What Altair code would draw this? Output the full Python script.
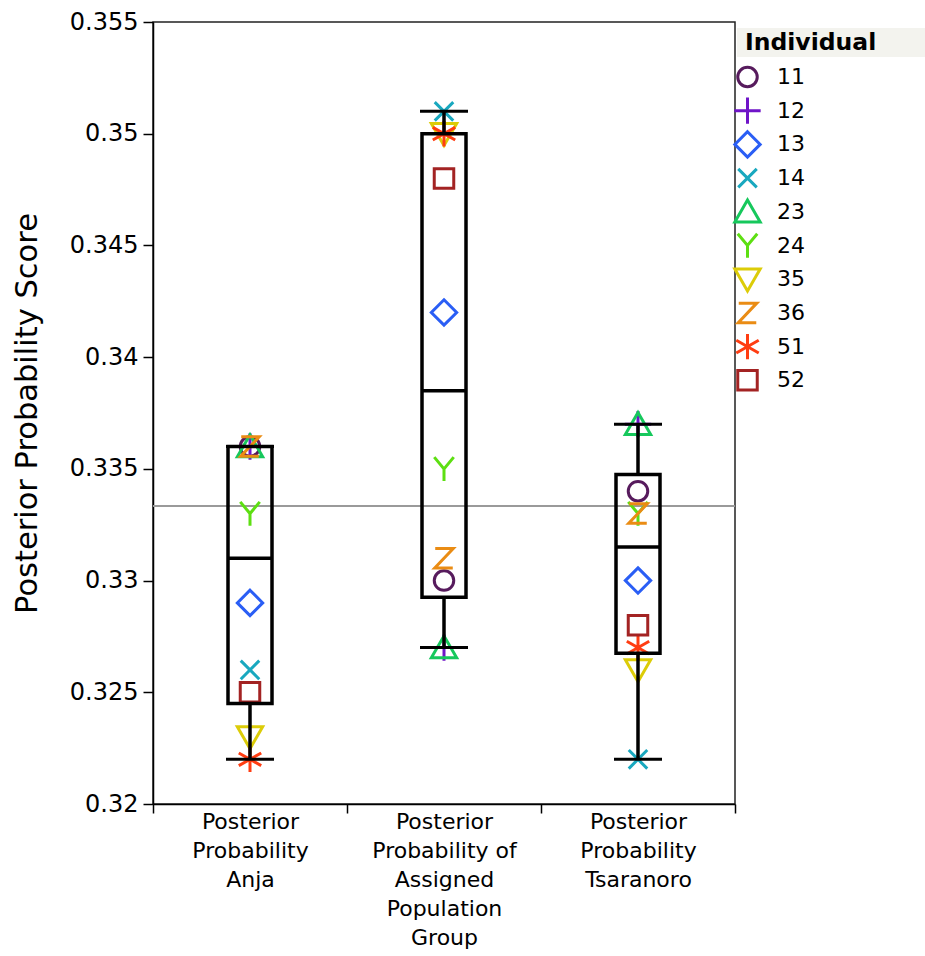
import altair as alt
import numpy as np
import pandas as pd

# ---- data ----
individuals = ["11", "12", "13", "14", "23", "24", "35", "36", "51", "52"]
categories = [
    "Posterior Probability Anja",
    "Posterior Probability of Assigned Population Group",
    "Posterior Probability Tsaranoro",
]
cat_lines = [
    ["Posterior", "Probability", "Anja"],
    ["Posterior", "Probability of", "Assigned", "Population", "Group"],
    ["Posterior", "Probability", "Tsaranoro"],
]
anja = [0.336, 0.336, 0.329, 0.326, 0.336, 0.333, 0.323, 0.336, 0.322, 0.325]
assigned = [0.330, 0.327, 0.342, 0.351, 0.327, 0.335, 0.350, 0.331, 0.350, 0.348]
tsaranoro = [0.334, 0.337, 0.330, 0.322, 0.337, 0.333, 0.326, 0.333, 0.327, 0.328]
reference_value = 1 / 3
y_ticks = [0.32, 0.325, 0.33, 0.335, 0.34, 0.345, 0.35, 0.355]

colors = ["#571b5d", "#6f14c8", "#2a5ef5", "#19a8bf", "#16c85c",
          "#5ddf12", "#dccc08", "#ea8c14", "#ff3d12", "#a32323"]
shapes = [
    "circle",
    "M-1.35,0H1.35M0,-1.35V1.35",
    "M0,-1.3L1.3,0L0,1.3L-1.3,0Z",
    "M-0.95,-0.95L0.95,0.95M-0.95,0.95L0.95,-0.95",
    "M0,-1.2L1.3,1.05L-1.3,1.05Z",
    "M-1,-1.2L0,0L1,-1.2M0,0V1.25",
    "M0,1.2L1.3,-1.05L-1.3,-1.05Z",
    "M-0.9,-1H0.95L-0.95,1H0.9",
    "M0,-1.3V1.3M-1.15,-0.65L1.15,0.65M-1.15,0.65L1.15,-0.65",
    "M-1,-1H1V1H-1Z",
]

# ---- tables ----
series = [anja, assigned, tsaranoro]
rows = []
for cat, vals in zip(categories, series):
    for ind, v in zip(individuals, vals):
        rows.append({"Category": cat, "Individual": ind, "Score": v})
points = pd.DataFrame(rows)

stats = []
for cat, vals in zip(categories, series):
    a = np.array(vals)
    q1, med, q3 = np.percentile(a, [25, 50, 75], method="weibull")
    stats.append({"Category": cat, "q1": q1, "median": med, "q3": q3,
                  "lo": a.min(), "hi": a.max()})
stats = pd.DataFrame(stats)

label_map = {c: l for c, l in zip(categories, cat_lines)}
label_expr = " : ".join(
    f"datum.label == '{c}' ? {l}" for c, l in label_map.items()
) + " : datum.label"

FONT = "DejaVu Sans"

x_enc = alt.X(
    "Category:N",
    sort=categories,
    scale=alt.Scale(domain=categories, paddingInner=0, paddingOuter=0),
    axis=alt.Axis(
        title=None, labelAngle=0, labelExpr=label_expr, labelFontSize=22,
        labelLineHeight=29, labelColor="black", labelFont=FONT,
        tickBand="extent", tickSize=9, tickColor="black", tickWidth=1.5,
        domainColor="black", domainWidth=1.5, labelPadding=-2,
    ),
)
y_scale = alt.Scale(domain=[0.32, 0.355], nice=False, zero=False)
y_axis = alt.Axis(
    title="Posterior Probability Score", values=y_ticks, format=".3~f",
    labelFontSize=24, labelFont=FONT, labelColor="black", tickSize=10,
    tickColor="black", tickWidth=1.5, domainColor="black", domainWidth=1.5,
    labelPadding=5, titleFontSize=30.5, titleFont=FONT,
    titleFontWeight="normal", titleColor="black", titlePadding=27, grid=False,
)

legend = alt.Legend(
    title="Individual", orient="none", legendX=592, legendY=9,
    titleFontSize=23.5, titleFont=FONT, titleFontWeight="bold", titleColor="black",
    titlePadding=11, labelFontSize=22, labelFont=FONT, labelColor="black",
    labelOffset=18, symbolSize=380, symbolStrokeWidth=3, symbolOffset=-9,
    rowPadding=-5.3, padding=0, symbolType="circle", gridAlign="all",
)

pts = alt.Chart(points).mark_point(filled=False, strokeWidth=3, size=380, opacity=1).encode(
    x=x_enc,
    y=alt.Y("Score:Q", scale=y_scale, axis=y_axis),
    color=alt.Color("Individual:N", scale=alt.Scale(domain=individuals, range=colors), legend=legend),
    shape=alt.Shape("Individual:N", scale=alt.Scale(domain=individuals, range=shapes), legend=legend),
)

ref = alt.Chart(pd.DataFrame({"v": [reference_value]})).mark_rule(
    color="#9a9a9a", strokeWidth=2
).encode(y=alt.Y("v:Q", scale=y_scale))

box = alt.Chart(stats).mark_bar(size=44, fillOpacity=0, stroke="black", strokeWidth=3.5).encode(
    x=alt.X("Category:N", sort=categories), y=alt.Y("q1:Q", scale=y_scale), y2="q3:Q"
)
lower = alt.Chart(stats).mark_rule(color="black", strokeWidth=3.5).encode(
    x=alt.X("Category:N", sort=categories), y=alt.Y("lo:Q", scale=y_scale), y2="q1:Q"
)
upper = alt.Chart(stats).mark_rule(color="black", strokeWidth=3.5).encode(
    x=alt.X("Category:N", sort=categories), y=alt.Y("q3:Q", scale=y_scale), y2="hi:Q"
)
med = alt.Chart(stats).mark_tick(size=44, thickness=3.5, color="black", opacity=1,
                                  orient="horizontal").encode(
    x=alt.X("Category:N", sort=categories), y=alt.Y("median:Q", scale=y_scale)
)
cap_lo = alt.Chart(stats).mark_tick(size=48, thickness=3, color="black", opacity=1,
                                     orient="horizontal").encode(
    x=alt.X("Category:N", sort=categories), y=alt.Y("lo:Q", scale=y_scale)
)
cap_hi = alt.Chart(stats).mark_tick(size=48, thickness=3, color="black", opacity=1,
                                     orient="horizontal").encode(
    x=alt.X("Category:N", sort=categories), y=alt.Y("hi:Q", scale=y_scale)
)

header_bg = alt.Chart(pd.DataFrame({"a": [0]})).mark_rect(color="#f3f3ee").encode(
    x=alt.value(584), x2=alt.value(775), y=alt.value(6), y2=alt.value(35)
)

chart = alt.layer(header_bg, ref, pts, box, lower, upper, med, cap_lo, cap_hi).properties(
    width=582, height=782,
    autosize=alt.AutoSizeParams(type="none"),
    padding={"left": 153, "top": 22, "right": 190, "bottom": 152},
    background="white",
).configure_view(stroke="#222222", strokeWidth=1.5)

chart.save("out.html", embed_options={"renderer": "svg", "actions": False})
